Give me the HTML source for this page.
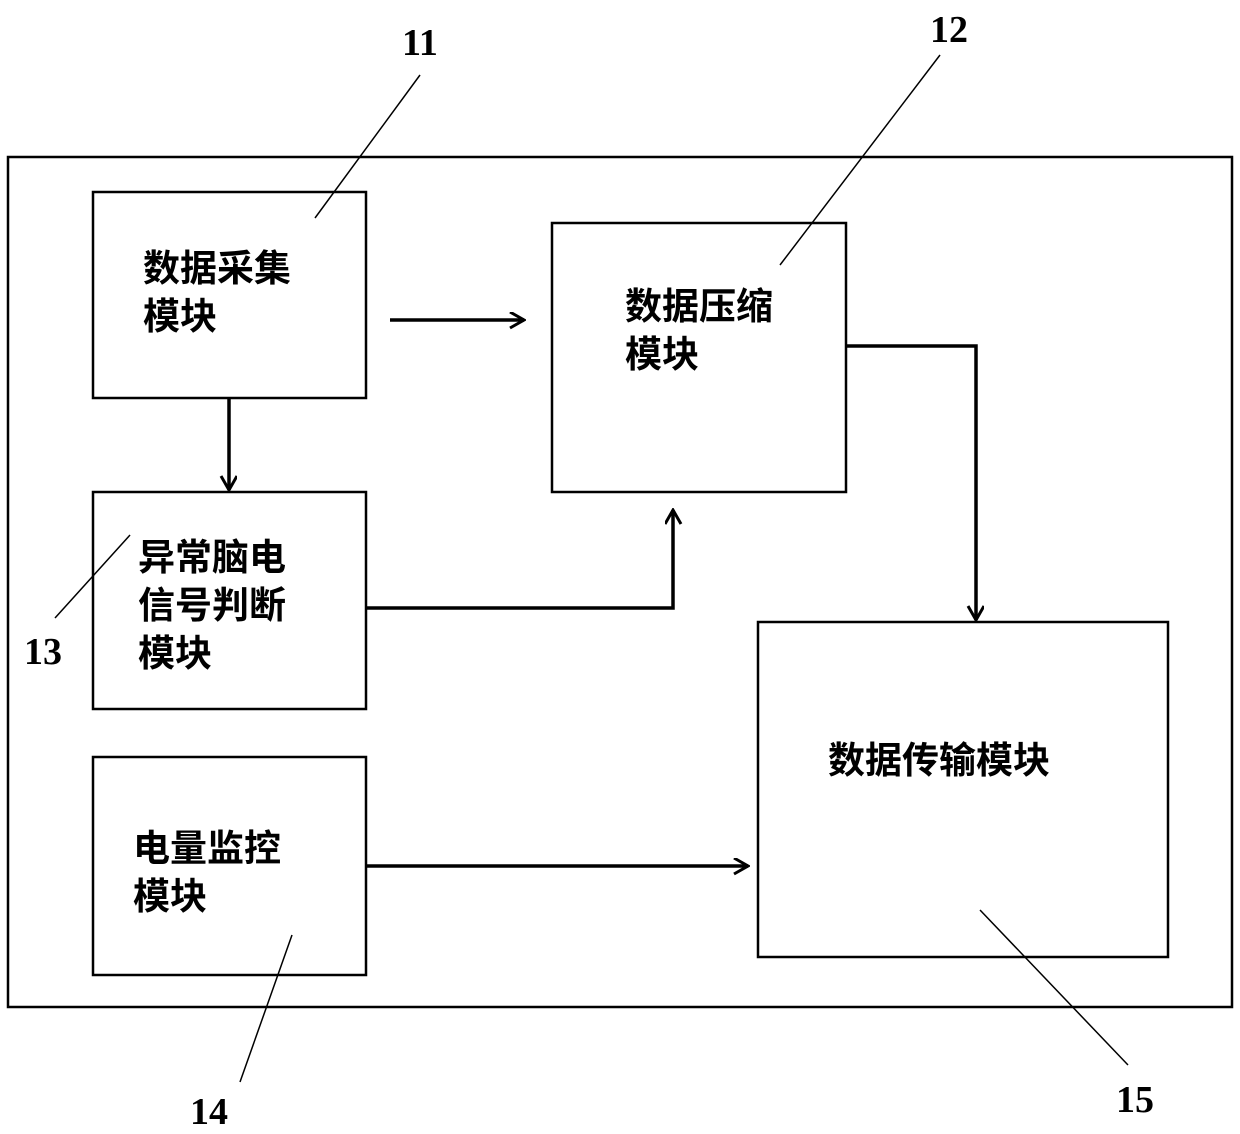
<!DOCTYPE html>
<html><head><meta charset="utf-8"><style>
html,body{margin:0;padding:0;background:#fff;}
svg{display:block;}
.t{font-family:"Liberation Sans","Noto Sans CJK SC",sans-serif;font-size:37px;font-weight:bold;fill:#000;}
.n{font-family:"Liberation Serif",serif;font-size:38px;font-weight:bold;fill:#000;}
</style></head><body>
<svg width="1240" height="1134" viewBox="0 0 1240 1134" xmlns="http://www.w3.org/2000/svg">
<defs>
<marker id="b" markerWidth="20" markerHeight="20" refX="18" refY="8" orient="auto" markerUnits="userSpaceOnUse"><path d="M4,0 L18,8 L4,16" fill="none" stroke="#000" stroke-width="3"/></marker></defs>
<g fill="none" stroke="#000" stroke-width="2.5">
<rect x="8" y="157" width="1224" height="850"/>
<rect x="93" y="192" width="273" height="206"/>
<rect x="552" y="223" width="294" height="269"/>
<rect x="93" y="492" width="273" height="217"/>
<rect x="93" y="757" width="273" height="218"/>
<rect x="758" y="622" width="410" height="335"/>
</g>
<g fill="none" stroke="#000" stroke-width="3.5" marker-end="url(#b)">
<path d="M390,320 H524"/>
<path d="M229,398 V490"/>
<path d="M366,608 H673 V510"/>
<path d="M846,346 H976 V620"/>
<path d="M366,866 H748"/>
</g>
<g stroke="#000" stroke-width="1.5">
<line x1="315" y1="218" x2="420" y2="75"/>
<line x1="780" y1="265" x2="940" y2="55"/>
<line x1="130" y1="535" x2="55" y2="618"/>
<line x1="292" y1="935" x2="240" y2="1082"/>
<line x1="980" y1="910" x2="1128" y2="1065"/>
</g>
<text class="t" x="143" y="281">数据采集</text>
<text class="t" x="143" y="329">模块</text>
<text class="t" x="625" y="319">数据压缩</text>
<text class="t" x="625" y="367">模块</text>
<text class="t" x="138" y="570">异常脑电</text>
<text class="t" x="138" y="618">信号判断</text>
<text class="t" x="138" y="666">模块</text>
<text class="t" x="133" y="861">电量监控</text>
<text class="t" x="133" y="909">模块</text>
<text class="t" x="828" y="773">数据传输模块</text>
<text class="n" x="402" y="55">11</text>
<text class="n" x="930" y="42">12</text>
<text class="n" x="24" y="664">13</text>
<text class="n" x="190" y="1124">14</text>
<text class="n" x="1116" y="1112">15</text>
</svg>
</body></html>
